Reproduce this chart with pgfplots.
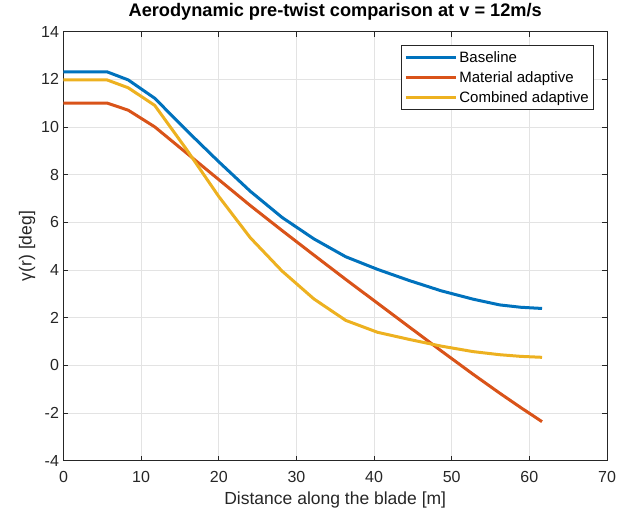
\documentclass[border=0pt]{standalone}
\usepackage{fontspec}
\setmainfont{Liberation Sans}
\usepackage{pgfplots}
\usepackage{pgfplotstable}
\pgfplotsset{compat=1.18}
\definecolor{mblue}{rgb}{0,0.447,0.741}
\definecolor{mred}{rgb}{0.85,0.325,0.098}
\definecolor{myellow}{rgb}{0.929,0.694,0.125}
\definecolor{axgray}{rgb}{0.15,0.15,0.15}
\pgfplotstableread{
r base mat comb
0       12.31 11.00 11.97
2.8667  12.31 11.00 11.97
5.6     12.31 11.00 11.97
8.3333  11.97 10.70 11.64
11.75   11.20 10.00 10.90
15.85   9.85  8.90  9.05
19.95   8.55  7.80  7.10
24.05   7.30  6.70  5.35
28.15   6.20  5.65  3.95
32.25   5.30  4.62  2.78
36.35   4.55  3.60  1.88
40.45   4.02  2.60  1.38
44.55   3.55  1.60  1.08
48.65   3.12  0.60  0.80
52.75   2.77  -0.38 0.57
56.1667 2.53  -1.17 0.44
58.9    2.43  -1.78 0.37
61.6333 2.38  -2.37 0.33
}\blade
\begin{document}
\begin{tikzpicture}
\begin{axis}[
  scale only axis, width=543.5pt, height=429pt,
  xmin=0, xmax=70, ymin=-4, ymax=14,
  xtick={0,10,...,70}, ytick={-4,-2,...,14},
  grid=major,
  major grid style={color=black!11, line width=0.6pt},
  axis line style={color=axgray, line width=0.6pt},
  tick style={color=axgray, line width=0.6pt},
  tick align=inside, major tick length=5pt,
  ticklabel style={font=\fontsize{16}{16}\selectfont, color=axgray},
  xticklabel style={yshift=-7pt},
  yticklabel style={xshift=-1pt},
  /pgf/number format/assume math mode=true,
  xlabel={Distance along the blade [m]},
  ylabel={γ(r) [deg]},
  xlabel style={at={(axis description cs:0.5,-0.0909)}, anchor=center, font=\fontsize{17.5}{18}\selectfont, color=axgray},
  ylabel style={at={(axis description cs:-0.0672,0.5)}, anchor=center, font=\fontsize{17.5}{18}\selectfont, color=axgray},
  title={Aerodynamic pre-twist comparison at v = 12m/s},
  title style={at={(axis description cs:0.5,1.021)}, anchor=base, font=\fontsize{18.2}{18}\selectfont\bfseries},
  legend style={at={(axis description cs:0.976,0.968)}, anchor=north east,
    font=\fontsize{15}{15}\selectfont, draw=axgray, line width=0.6pt,
    inner xsep=3pt, inner ysep=4pt, row sep=3.5pt},
  legend cell align=left,
  legend image code/.code={\draw[#1, line width=3pt] (0pt,0pt) -- (50pt,0pt);},
  every axis plot/.append style={line width=3pt, line join=round},
]
\addplot[mblue] table[x=r, y=base] {\blade};
\addlegendentry{Baseline}
\addplot[mred] table[x=r, y=mat] {\blade};
\addlegendentry{Material adaptive}
\addplot[myellow] table[x=r, y=comb] {\blade};
\addlegendentry{Combined adaptive}
\coordinate (sw) at (rel axis cs:0,0);
\end{axis}
\path (sw) ++(-63.5pt,-57pt) rectangle ++(627pt,515pt);
\end{tikzpicture}
\end{document}
